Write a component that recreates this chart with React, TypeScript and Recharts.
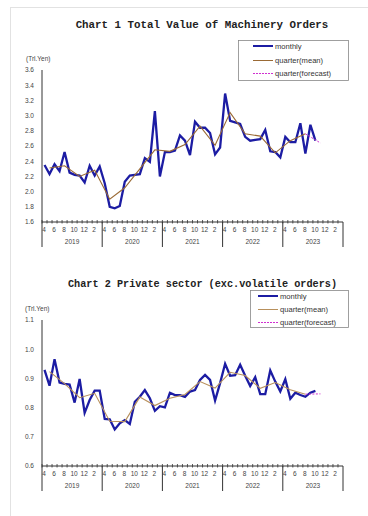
import React from "react";
import { LineChart, Line, XAxis, YAxis } from "recharts";

// fiscal year axis: Apr .. Mar
const fyMonths = ["4", "5", "6", "7", "8", "9", "10", "11", "12", "1", "2", "3"];
const fiscalYears = ["2019", "2020", "2021", "2022", "2023"];
const monthTicks = Array.from({ length: 60 }, (_, i) => i);

// Chart 1: total value of machinery orders (trillion yen)
const totalMonthly = [
  2.35, 2.23, 2.36, 2.27, 2.52, 2.25, 2.22, 2.21, 2.12, 2.34, 2.21, 2.33,
  2.11, 1.8, 1.78, 1.81, 2.13, 2.21, 2.22, 2.23, 2.44, 2.39, 3.06, 2.2,
  2.52, 2.52, 2.54, 2.74, 2.67, 2.48, 2.92, 2.84, 2.84, 2.77, 2.49, 2.58,
  3.29, 2.93, 2.91, 2.89, 2.72, 2.67, 2.68, 2.69, 2.81, 2.53, 2.52, 2.45,
  2.72, 2.65, 2.65, 2.9, 2.5, 2.88, 2.67,
];
const totalQuarter = [
  2.31, 2.34, 2.2, 2.28, 1.9, 2.05, 2.3, 2.55, 2.53,
  2.62, 2.86, 2.61, 3.04, 2.76, 2.73, 2.51, 2.67, 2.76,
];
const totalForecast = [2.76, 2.64];
const totalTicks = [1.6, 1.8, 2.0, 2.2, 2.4, 2.6, 2.8, 3.0, 3.2, 3.4, 3.6];

// Chart 2: private sector excluding volatile orders (trillion yen)
const privateMonthly = [
  0.929, 0.875, 0.966, 0.886, 0.881, 0.879, 0.817, 0.898, 0.782, 0.826, 0.858, 0.858,
  0.761, 0.76, 0.725, 0.746, 0.757, 0.744, 0.82, 0.837, 0.86, 0.832, 0.789, 0.805,
  0.801, 0.851, 0.843, 0.843, 0.837, 0.855, 0.86, 0.895, 0.912, 0.895, 0.824, 0.884,
  0.95, 0.909, 0.911, 0.947, 0.909, 0.874, 0.904, 0.846, 0.846, 0.927, 0.889, 0.855,
  0.897, 0.83, 0.851, 0.843, 0.837, 0.851, 0.857,
];
const privateQuarter = [
  0.923, 0.882, 0.834, 0.849, 0.753, 0.752, 0.836, 0.807, 0.832,
  0.845, 0.889, 0.867, 0.921, 0.91, 0.866, 0.886, 0.861, 0.846,
];
const privateForecast = [0.846, 0.847];
const privateTicks = [0.6, 0.7, 0.8, 0.9, 1.0, 1.1];

const forecastAt = [52, 55];

const sans = "'Liberation Sans', Arial, sans-serif";
const mono = "'Liberation Mono', 'Courier New', monospace";
const bandW = 301 / 60;
const magenta = "#d030d0";

function buildRows(monthly: number[], quarter: number[], forecast: number[]) {
  return monthTicks.map((i) => ({
    idx: i,
    monthly: monthly[i] ?? null,
    quarter: i % 3 === 1 ? quarter[(i - 1) / 3] ?? null : null,
    forecast: forecastAt.indexOf(i) >= 0 ? forecast[forecastAt.indexOf(i)] : null,
  }));
}

function MonthTick(props: any) {
  const { x, y, index } = props;
  const left = x - bandW / 2;
  return (
    <g>
      <line x1={left} x2={left} y1={y - 2} y2={y + 1.5} stroke="#333" strokeWidth={0.8} />
      {index % 12 === 0 && (
        <line x1={left} x2={left} y1={y} y2={y + 25} stroke="#333" strokeWidth={1} />
      )}
      {index === 59 && (
        <line x1={x + bandW / 2} x2={x + bandW / 2} y1={y} y2={y + 25} stroke="#333" strokeWidth={1} />
      )}
      {index % 12 === 0 && (
        <text x={left + bandW * 6} y={y + 22} textAnchor="middle" fontSize={6.5} fill="#444" fontFamily={sans}>
          {fiscalYears[index / 12]}
        </text>
      )}
      {index % 2 === 0 && (
        <text x={x - 0.5} y={y + 10} textAnchor="middle" fontSize={6.5} fill="#444" fontFamily={sans}>
          {fyMonths[index % 12]}
        </text>
      )}
    </g>
  );
}

function OrdersChart({
  rows,
  yTicks,
  quarterColor,
  height,
  margin,
}: {
  rows: any[];
  yTicks: number[];
  quarterColor: string;
  height: number;
  margin: { top: number; right: number; bottom: number; left: number };
}) {
  return (
    <LineChart width={368} height={height} data={rows} margin={margin}>
      <XAxis
        dataKey="idx"
        type="number"
        domain={[-0.5, 59.5]}
        ticks={monthTicks}
        interval={0}
        tickSize={0}
        tickMargin={0}
        height={30}
        allowDataOverflow
        axisLine={{ stroke: "#333" }}
        tick={(p: any) => <MonthTick {...p} />}
      />
      <YAxis
        type="number"
        domain={[yTicks[0], yTicks[yTicks.length - 1]]}
        ticks={yTicks}
        interval={0}
        width={30}
        tickLine={false}
        tickSize={3}
        tickMargin={5}
        axisLine={{ stroke: "#333" }}
        tickFormatter={(v: number) => v.toFixed(1)}
        tick={{ fontSize: 6.5, fill: "#444", fontFamily: sans }}
      />
      <Line
        dataKey="monthly"
        stroke="#1c1ca3"
        strokeWidth={2.3}
        dot={false}
        isAnimationActive={false}
      />
      <Line
        dataKey="quarter"
        stroke={quarterColor}
        strokeWidth={1.1}
        dot={false}
        connectNulls
        isAnimationActive={false}
      />
      <Line
        dataKey="forecast"
        stroke={magenta}
        strokeWidth={1}
        strokeDasharray="2 1.5"
        dot={false}
        connectNulls
        isAnimationActive={false}
      />
    </LineChart>
  );
}

function LegendBox({
  x,
  y,
  w,
  h,
  rows,
  lineX,
  textX,
  fontSize,
  quarterColor,
}: {
  x: number;
  y: number;
  w: number;
  h: number;
  rows: number[];
  lineX: number;
  textX: number;
  fontSize: number;
  quarterColor: string;
}) {
  const items = [
    { label: "monthly", color: "#1c1ca3", width: 2, dash: undefined },
    { label: "quarter(mean)", color: quarterColor, width: 1, dash: undefined },
    { label: "quarter(forecast)", color: magenta, width: 1, dash: "2 1" },
  ];
  return (
    <g>
      <rect x={x} y={y} width={w} height={h} fill="#fff" stroke="#888" strokeWidth={0.8} />
      {items.map((it, k) => (
        <g key={it.label}>
          <line
            x1={lineX}
            x2={lineX + 20}
            y1={rows[k]}
            y2={rows[k]}
            stroke={it.color}
            strokeWidth={it.width}
            strokeDasharray={it.dash}
          />
          <text x={textX} y={rows[k] + fontSize * 0.35} fontSize={fontSize} fill="#333" fontFamily={sans}>
            {it.label}
          </text>
        </g>
      ))}
    </g>
  );
}

export default function App() {
  const totalRows = buildRows(totalMonthly, totalQuarter, totalForecast);
  const privateRows = buildRows(privateMonthly, privateQuarter, privateForecast);
  const brown1 = "#9a6a35";
  const brown2 = "#b8905c";

  return (
    <div style={{ position: "relative", width: 368, height: 516, background: "#fff", overflow: "hidden" }}>
      <style>{"body{margin:0}"}</style>
      <div style={{ position: "absolute", left: 0, top: 0 }}>
        <OrdersChart
          rows={totalRows}
          yTicks={totalTicks}
          quarterColor={brown1}
          height={260}
          margin={{ top: 70, right: 25, bottom: 8, left: 12 }}
        />
      </div>
      <div style={{ position: "absolute", left: 0, top: 260 }}>
        <OrdersChart
          rows={privateRows}
          yTicks={privateTicks}
          quarterColor={brown2}
          height={250}
          margin={{ top: 60, right: 25, bottom: 14, left: 12 }}
        />
      </div>
      <svg
        width={368}
        height={516}
        style={{ position: "absolute", left: 0, top: 0, pointerEvents: "none" }}
      >
        <line x1={10} x2={368} y1={7.5} y2={7.5} stroke="#e2e2e2" />
        <line x1={10.5} x2={10.5} y1={7} y2={516} stroke="#e2e2e2" />

        <text x={202} y={28} textAnchor="middle" fontSize={10.8} fontWeight="bold" fill="#222" fontFamily={mono}>
          Chart 1 Total Value of Machinery Orders
        </text>
        <text x={26} y={60.5} fontSize={6.5} fill="#444" fontFamily={sans}>
          (Trl.Yen)
        </text>
        <LegendBox
          x={238.5}
          y={40.5}
          w={110}
          h={40}
          rows={[46, 60.5, 73.5]}
          lineX={253}
          textX={275}
          fontSize={7.6}
          quarterColor={brown1}
        />

        <text x={202.5} y={287} textAnchor="middle" fontSize={10.2} fontWeight="bold" fill="#222" fontFamily={mono}>
          Chart 2 Private sector (exc.volatile orders)
        </text>
        <text x={25} y={311} fontSize={6.5} fill="#444" fontFamily={sans}>
          (Trl.Yen)
        </text>
        <LegendBox
          x={250.5}
          y={290.5}
          w={98}
          h={37}
          rows={[296, 309.5, 322.5]}
          lineX={258}
          textX={280}
          fontSize={7.6}
          quarterColor={brown2}
        />
      </svg>
    </div>
  );
}
